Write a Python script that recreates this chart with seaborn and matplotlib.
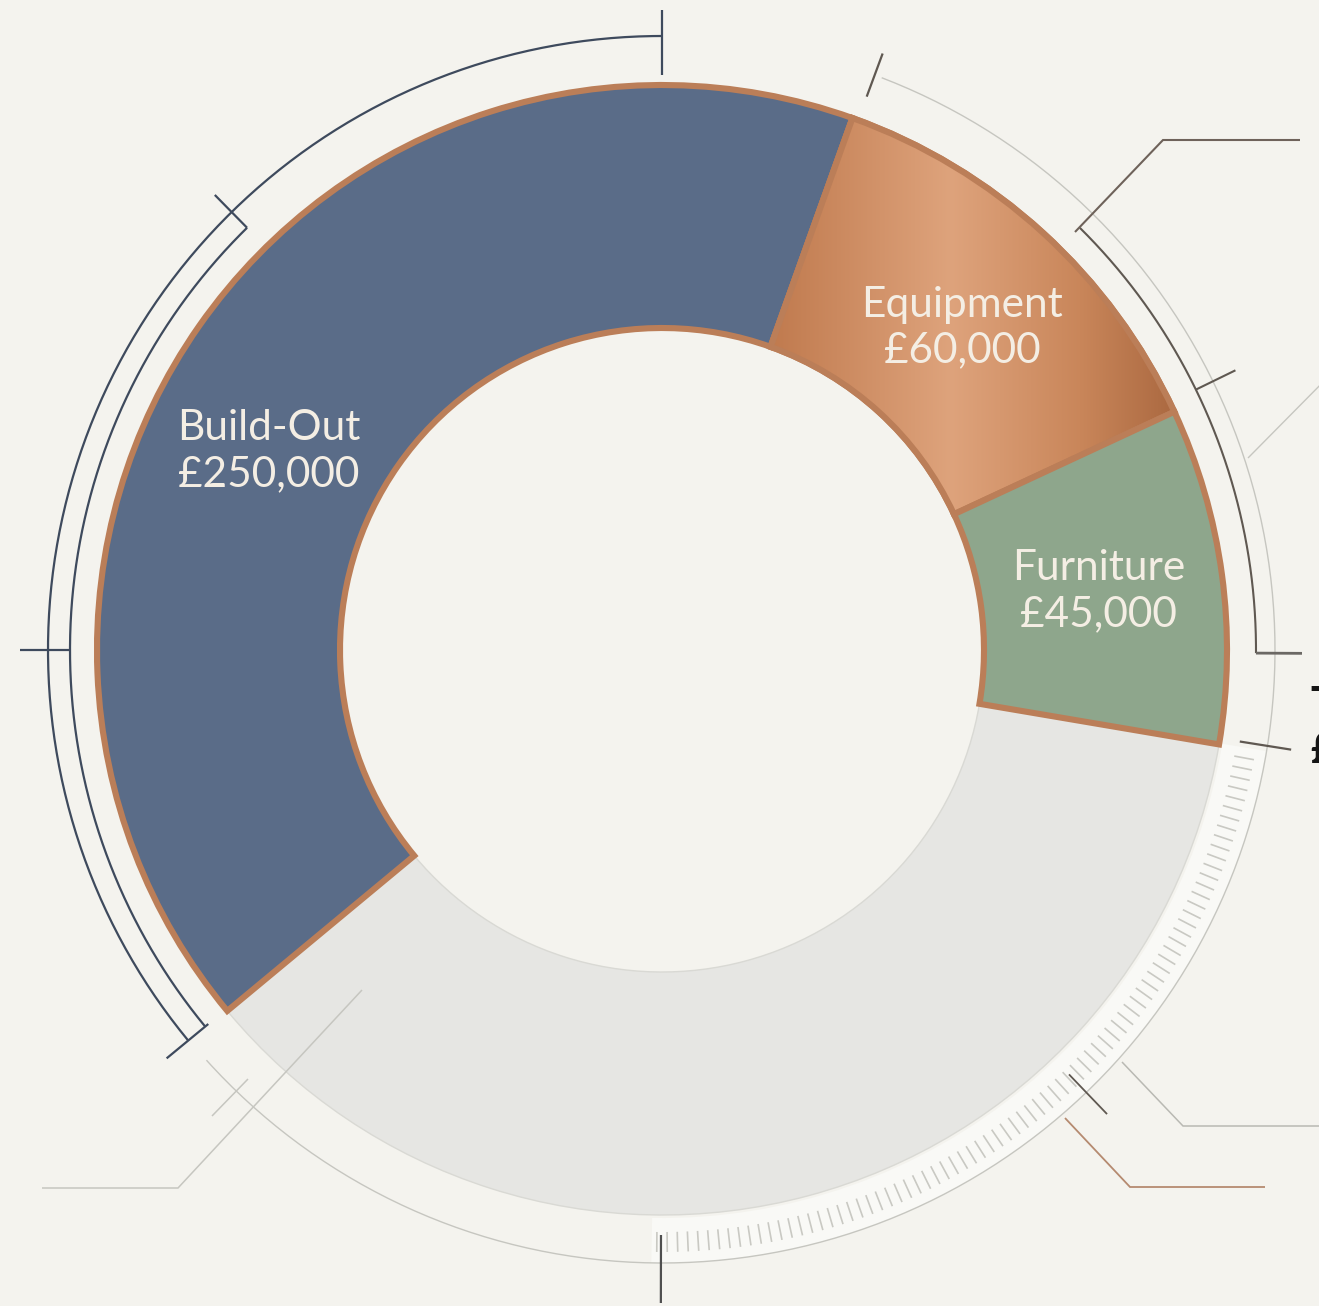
import numpy as np
import matplotlib
matplotlib.use("Agg")
import matplotlib.pyplot as plt
from matplotlib.patches import Wedge
from matplotlib.colors import LinearSegmentedColormap
import seaborn as sns

# ---------------- data ----------------
categories = ["Build-Out", "Equipment", "Furniture", "Unallocated"]
amounts = [250000, 60000, 45000, None]
ring_share_pct = [41.5, 12.6, 9.6, 36.3]          # share of the ring each segment takes
total_label = "Total\n£355,000"

# ---------------- style ----------------
palette = ["#5a6c88", "#c98758", "#8ea68c", "#e6e6e3"]
COPPER = "#bb7e58"
NAVY = "#3e4a5d"
DARK = "#5f5851"
LIGHT = "#c6c6c0"
BG = "#f4f3ee"

sns.set_theme(style="white")
plt.rcParams["font.family"] = ["Lato", "DejaVu Sans"]

W, H = 1319, 1306
CX, CY, R = 662, 650, 565        # centre and outer radius in pixels
R_IN = 322

fig = plt.figure(figsize=(W / 100, H / 100), dpi=100, facecolor=BG)
ax = fig.add_axes([0, 0, 1, 1])
ax.set_facecolor(BG)


def pc(r_px, clock_deg):
    t = np.deg2rad(clock_deg)
    return r_px / R * np.sin(t), r_px / R * np.cos(t)


def px(x, y):
    return (x - CX) / R, (CY - y) / R


def arc(r_px, a0, a1, **kw):
    t = np.linspace(a0, a1, 300)
    x, y = pc(r_px, t)
    ax.plot(x, y, solid_capstyle="butt", **kw)


def radial(a, r0, r1, **kw):
    x0, y0 = pc(r0, a)
    x1, y1 = pc(r1, a)
    ax.plot([x0, x1], [y0, y1], solid_capstyle="butt", **kw)


def poly(pts, **kw):
    xs, ys = zip(*[px(*p) for p in pts])
    ax.plot(xs, ys, solid_capstyle="butt", solid_joinstyle="miter", **kw)


# ---------------- donut ----------------
start_clock = 230.3
wedges, _ = ax.pie(
    ring_share_pct,
    colors=palette,
    startangle=90 - start_clock,
    counterclock=False,
    radius=1.0,
    wedgeprops=dict(width=(R - R_IN) / R, linewidth=4.4, edgecolor=COPPER,
                    joinstyle="miter"),
)
for i, w in enumerate(wedges):
    w.set_zorder(3 - (1 if i == 3 else 0) + i * 0.01)
wedges[3].set_edgecolor("#d9d9d4")
wedges[3].set_linewidth(1.0)

# copper gradient on Equipment
weq = wedges[1]
stops_px = [770, 950, 1080, 1180]
stop_cols = ["#c07a4e", "#dea37c", "#c9865a", "#a9673f"]
pos = [(s - stops_px[0]) / (stops_px[-1] - stops_px[0]) for s in stops_px]
cmap = LinearSegmentedColormap.from_list("cu", list(zip(pos, stop_cols)))
gx0, gy0 = px(stops_px[0], 530)
gx1, gy1 = px(stops_px[-1], 100)
im = ax.imshow(np.linspace(0, 1, 256)[None, :], extent=[gx0, gx1, gy0, gy1],
               cmap=cmap, aspect="auto", interpolation="bicubic",
               zorder=weq.get_zorder() + 0.002)
im.set_clip_path(weq)
ax.add_patch(Wedge((0, 0), 1.0, weq.theta1, weq.theta2, width=(R - R_IN) / R,
                   fill=False, edgecolor=COPPER, linewidth=4.4,
                   joinstyle="miter", zorder=weq.get_zorder() + 0.004))

# labels
label_offsets = [8.2, -0.6, 0]
for i in range(3):
    w = wedges[i]
    mid = np.deg2rad((w.theta1 + w.theta2) / 2 + label_offsets[i])
    ax.text(0.78 * np.cos(mid), 0.78 * np.sin(mid),
            f"{categories[i]}\n£{amounts[i]:,}", ha="center", va="center",
            fontsize=30.5, color="#f4eee4", linespacing=1.25, zorder=6)

# ---------------- decorative rings ----------------
# hatched band at lower right
ax.add_patch(Wedge((0, 0), 613 / R, 90 - 181, 90 - 99.5, width=(613 - 568) / R,
                   facecolor="#f9f9f6", edgecolor="none", zorder=1))
for a in np.arange(100.5, 181, 1.0):
    radial(a, 582, 602, color="#c9c9c3", lw=1.2, zorder=1.5)

arc(613, 21, 228, color=LIGHT, lw=1.0, zorder=2)

# navy bracket around Build-Out
arc(614, 230.5, 360, color=NAVY, lw=1.6, zorder=2)
arc(592, 230.5, 315.5, color=NAVY, lw=1.6, zorder=2)
radial(0, 575, 640, color=NAVY, lw=1.6, zorder=2)
radial(315.5, 592, 638, color=NAVY, lw=1.6, zorder=2)
radial(270, 592, 642, color=NAVY, lw=1.6, zorder=2)
radial(230.5, 588, 642, color=NAVY, lw=1.6, zorder=2)

# right side brackets
radial(20.3, 590, 636, color=DARK, lw=1.6, zorder=2)
arc(594, 44.7, 90.3, color=DARK, lw=1.5, zorder=2)
radial(64, 594, 638, color=DARK, lw=1.5, zorder=2)
radial(90.3, 594, 640, color="#6b6864", lw=2.0, zorder=2)
radial(99, 585, 637, color=DARK, lw=1.6, zorder=2)
radial(136.2, 588, 643, color=DARK, lw=1.3, zorder=2)
radial(180.1, 585, 653, color="#4f4f4f", lw=1.6, zorder=2)

# leader lines
poly([(1075, 232), (1163, 140), (1300, 140)], color="#6e625a", lw=1.5, zorder=2)
poly([(1248, 458), (1335, 370)], color=LIGHT, lw=1.0, zorder=2)
poly([(1122, 1062), (1183, 1126), (1335, 1126)], color="#b9b9b3", lw=1.1, zorder=2)
poly([(1065, 1118), (1130, 1187), (1265, 1187)], color="#b58a70", lw=1.3, zorder=2)
poly([(362, 990), (178, 1188), (42, 1188)], color=LIGHT, lw=1.1, zorder=4)
poly([(212, 1116), (248, 1079)], color=LIGHT, lw=1.1, zorder=2)

# label running off the right edge, as in the reference
tx, ty = px(1310, 686)
ax.text(tx, ty, total_label, ha="left", va="top", fontsize=30,
        color="#151515", fontweight="bold", linespacing=1.25, zorder=6)

ax.set_xlim(-CX / R, (W - CX) / R)
ax.set_ylim(-(H - CY) / R, CY / R)
ax.set_aspect("auto")
ax.axis("off")

fig.savefig("out.png", dpi=100, facecolor=BG)
